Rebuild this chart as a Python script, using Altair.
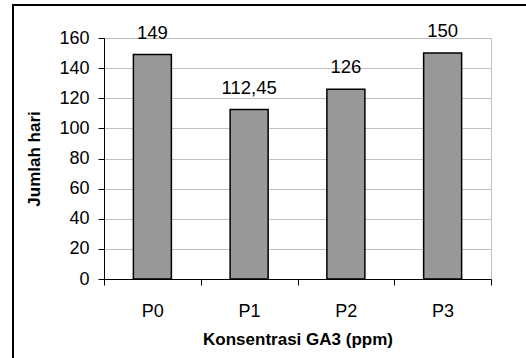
import altair as alt
import pandas as pd

categories = ["P0", "P1", "P2", "P3"]
values = [149, 112.45, 126, 150]
labels = ["149", "112,45", "126", "150"]
y_ticks = [0, 20, 40, 60, 80, 100, 120, 140, 160]

df = pd.DataFrame({"cat": categories, "val": values, "lab": labels})
FONT = "Liberation Sans"

x_axis = alt.Axis(title="Konsentrasi GA3 (ppm)", labelAngle=0, tickBand="extent",
                  domainColor="black", tickColor="black", tickSize=6,
                  labelFontSize=18, labelPadding=17, labelColor="black",
                  titleFontSize=17, titleFontWeight="bold", titlePadding=11,
                  titleColor="black", grid=False)
y_axis = alt.Axis(title="Jumlah hari", values=y_ticks, labelOverlap=False,
                  domainColor="black", tickColor="black", tickSize=6,
                  labelFontSize=18, labelPadding=9, labelColor="black",
                  titleFontSize=17, titleFontWeight="bold", titlePadding=15,
                  titleColor="black", gridColor="#c0c0c0", gridWidth=1)

x_enc = alt.X("cat:N", sort=categories, scale=alt.Scale(paddingInner=0, paddingOuter=0), axis=x_axis)
y_enc = alt.Y("val:Q", scale=alt.Scale(domain=[0, 160], nice=False), axis=y_axis)

base = alt.Chart(df)

bars = base.mark_bar(size=38, fill="#999999", stroke="black", strokeWidth=1.5).encode(
    x=x_enc, y=y_enc)

text = base.mark_text(fontSize=18.5, baseline="alphabetic", dy=-16, font=FONT, color="black").encode(
    x=x_enc, y=y_enc, text="lab:N")

one = alt.Chart(alt.Data(values=[{"a": 1}]))
left_border = one.mark_rule(color="black", strokeWidth=2).encode(
    x=alt.value(-91), y=alt.value(-33), y2=alt.value(320))
top_border = one.mark_rule(color="black", strokeWidth=2).encode(
    x=alt.value(-92), x2=alt.value(422), y=alt.value(-33))

chart = alt.layer(bars, text, left_border, top_border).properties(
    width=387, height=241,
    autosize=alt.AutoSizeParams(type="none"),
    padding={"left": 104, "top": 38, "right": 35, "bottom": 79},
).configure(font=FONT).configure_view(stroke="#c0c0c0", strokeWidth=1)

chart.save("out.html", embed_options={"renderer": "svg", "actions": False})
